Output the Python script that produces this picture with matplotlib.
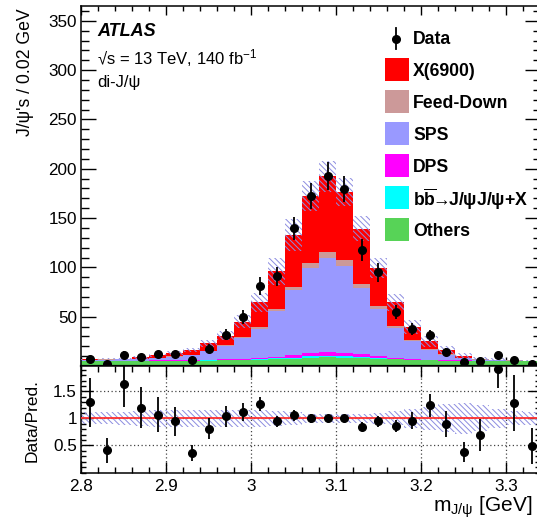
import numpy as np
import matplotlib
matplotlib.use('Agg')
import matplotlib.pyplot as plt
from matplotlib.ticker import MultipleLocator, FixedLocator, FixedFormatter

plt.rcParams['font.family'] = ['Liberation Sans', 'DejaVu Sans']
plt.rcParams['mathtext.fontset'] = 'custom'
plt.rcParams['mathtext.rm'] = 'Liberation Sans'
plt.rcParams['mathtext.it'] = 'Liberation Sans:italic'
plt.rcParams['mathtext.bf'] = 'Liberation Sans:bold'
plt.rcParams['hatch.linewidth'] = 0.7

# binning: 27 bins of 0.02 GeV
edges = np.linspace(2.80, 3.34, 28)
centers = 0.5 * (edges[1:] + edges[:-1])

# stacked components (bottom -> top)
others = [5.0, 5.0, 5.0, 5.0, 5.1, 5.2, 5.3, 5.5, 5.7, 6.0, 6.4, 7.0, 7.6, 8.3, 8.8,
          8.6, 8.0, 7.2, 6.6, 6.0, 5.6, 5.3, 5.1, 5.0, 4.9, 4.8, 4.7]
bbbar = [0.1, 0.1, 0.1, 0.1, 0.1, 0.2, 0.2, 0.2, 0.3, 0.4, 0.5, 0.7, 1.0, 1.4, 1.6,
         1.5, 1.1, 0.8, 0.5, 0.4, 0.3, 0.2, 0.1, 0.1, 0.1, 0.1, 0.1]
dps = [0.3, 0.3, 0.3, 0.4, 0.4, 0.5, 0.5, 0.6, 0.8, 1.0, 1.3, 1.8, 2.5, 3.4, 3.8,
       3.5, 2.6, 1.8, 1.2, 0.9, 0.6, 0.5, 0.4, 0.3, 0.3, 0.3, 0.2]
sps = [0.8, 1.0, 1.2, 1.5, 2.5, 3.5, 5.0, 8.5, 13.9, 21.0, 29.4, 46.0, 65.5, 86.5, 95.0,
       87.7, 67.3, 48.2, 30.3, 17.8, 10.0, 5.5, 2.5, 1.0, 0.5, 0.3, 0.2]
feeddown = [0.2, 0.2, 0.2, 0.2, 0.3, 0.3, 0.4, 0.5, 0.7, 1.0, 2.0, 2.4, 3.7, 5.1, 6.4,
            5.8, 4.3, 3.0, 1.7, 0.9, 0.6, 0.4, 0.3, 0.2, 0.2, 0.1, 0.1]
x6900 = [0.4, 0.9, 0.7, 1.6, 2.5, 3.2, 4.9, 7.8, 9.1, 15.6, 24.9, 38.0, 52.7, 67.8, 76.6,
         69.7, 55.9, 38.6, 24.1, 13.6, 8.0, 4.1, 2.1, 0.9, 0.5, 0.2, 0.1]

# relative uncertainty of the prediction
rel_unc = [0.11, 0.11, 0.12, 0.14, 0.15, 0.15, 0.15, 0.15, 0.15, 0.15, 0.15, 0.14, 0.12, 0.09,
           0.08, 0.08, 0.09, 0.10, 0.13, 0.17, 0.22, 0.26, 0.28, 0.24, 0.18, 0.13, 0.12]

data_y = [7.6, 2.4, 11.6, 9.5, 11.9, 11.9, 5.8, 17.7, 31.5, 49.8, 81.0, 90.8, 139.6, 172.5,
          192.8, 179.2, 117.6, 94.9, 54.9, 37.8, 31.0, 14.0, 3.9, 4.9, 10.9, 5.8, 2.4]
data_err = [2.8, 1.6, 3.4, 3.1, 3.4, 3.4, 2.4, 4.2, 5.6, 7.1, 9.0, 9.5, 11.8, 13.1, 13.9,
            13.4, 10.8, 9.7, 7.4, 6.1, 5.6, 3.8, 2.0, 2.2, 3.3, 2.4, 1.5]

ratio = [1.30, 0.41, 1.63, 1.20, 1.07, 0.95, 0.36, 0.81, 1.04, 1.12, 1.26, 0.95, 1.06, 1.00,
         1.00, 1.00, 0.85, 0.95, 0.86, 0.96, 1.24, 0.90, 0.38, 0.69, 1.91, 1.28, 0.49]
ratio_err = [0.45, 0.23, 0.41, 0.38, 0.32, 0.27, 0.15, 0.19, 0.19, 0.16, 0.13, 0.10, 0.10, 0.08,
             0.06, 0.06, 0.09, 0.10, 0.12, 0.16, 0.22, 0.24, 0.19, 0.30, 0.35, 0.52, 0.33]

components = [others, bbbar, dps, sps, feeddown, x6900]
colors = ['#57d357', '#00ffff', '#ff00ff', '#9999ff', '#cc9999', '#ff0000']
leg_labels = ['X(6900)', 'Feed-Down', 'SPS', 'DPS',
              r'b$\overline{\mathbf{b}}\!\!\rightarrow\!\!$J/ψJ/ψ+X', 'Others']
leg_colors = ['#ff0000', '#cc9999', '#9999ff', '#ff00ff', '#00ffff', '#57d357']
hatch_col = '#8c8ce0'
hatch_pat = '\\' * 6

W, H = 537, 524
fig = plt.figure(figsize=(W / 100, H / 100), dpi=100)
ax = fig.add_axes([81 / W, 1 - 366 / H, 459 / W, 360 / H])
axr = fig.add_axes([81 / W, 1 - 472.5 / H, 459 / W, 106.5 / H])

# stacked histogram
bottom = np.zeros(len(centers))
for vals, col in zip(components, colors):
    top = bottom + np.array(vals)
    ax.stairs(top, edges, baseline=bottom, fill=True, color=col, lw=0, zorder=2)
    bottom = top
total = bottom
unc = np.array(rel_unc)
ax.bar(centers, 2 * unc * total, bottom=total * (1 - unc), width=0.02, fill=False,
       hatch=hatch_pat, edgecolor=hatch_col, linewidth=0, zorder=3)
ax.errorbar(centers, data_y, yerr=data_err, fmt='o', color='k', ms=5.5,
            elinewidth=1.3, capsize=0, zorder=5)

ax.set_xlim(2.80, 3.34)
ax.set_ylim(0, 365)
ax.yaxis.set_major_locator(FixedLocator([50, 100, 150, 200, 250, 300, 350]))
ax.yaxis.set_minor_locator(MultipleLocator(10))
ax.xaxis.set_major_locator(MultipleLocator(0.1))
ax.xaxis.set_minor_locator(MultipleLocator(0.02))
ax.tick_params(axis='x', which='major', length=6.5, labelbottom=False)
ax.tick_params(axis='x', which='minor', length=3.6)
ax.tick_params(axis='y', which='major', length=10.8, labelsize=12.3, pad=3)
ax.tick_params(axis='y', which='minor', length=5.4)
ax.tick_params(which='both', direction='in', top=True, right=True, width=1)

# ratio panel
axr.bar(centers, 2 * unc, bottom=1 - unc, width=0.02, fill=False,
        hatch=hatch_pat, edgecolor=hatch_col, linewidth=0, zorder=2)
axr.axhline(1, color='#ff3030', lw=1.3, zorder=3)
axr.errorbar(centers, ratio, yerr=ratio_err, fmt='o', color='k', ms=5.5,
             elinewidth=1.3, capsize=0, zorder=5)
axr.set_xlim(2.80, 3.34)
axr.set_ylim(0, 1.97)
axr.xaxis.set_major_locator(FixedLocator([2.8, 2.9, 3.0, 3.1, 3.2, 3.3]))
axr.xaxis.set_major_formatter(FixedFormatter(['2.8', '2.9', '3', '3.1', '3.2', '3.3']))
axr.xaxis.set_minor_locator(MultipleLocator(0.02))
axr.yaxis.set_major_locator(FixedLocator([0.5, 1.0, 1.5]))
axr.yaxis.set_major_formatter(FixedFormatter(['0.5', '1', '1.5']))
axr.yaxis.set_minor_locator(MultipleLocator(0.1))
axr.tick_params(axis='x', which='major', length=8, labelsize=12.3, pad=4.5)
axr.tick_params(axis='x', which='minor', length=4)
axr.tick_params(axis='y', which='major', length=8.4, labelsize=12.3, pad=3)
axr.tick_params(axis='y', which='minor', length=3.6)
axr.tick_params(which='both', direction='in', top=True, right=True, width=1)
axr.grid(True, which='major', color='#444444', linestyle=(0, (1, 2)), lw=0.9, zorder=1)

for a in (ax, axr):
    for s in a.spines.values():
        s.set_linewidth(1.1)
ax.spines['bottom'].set_linewidth(1.6)

# labels
fig.text(25 / W, 1 - 8 / H, "J/ψ's / 0.02 GeV", rotation=90, ha='center', va='top',
         fontsize=12.7)
fig.text(32 / W, 1 - 420 / H, 'Data/Pred.', rotation=90, ha='center', va='center',
         fontsize=12.5)
fig.text(433 / W, 1 - 507 / H, r'm$_{\mathregular{J/ψ}}$ [GeV]', ha='left', va='center',
         fontsize=15)

fig.text(97 / W, 1 - 31 / H, 'ATLAS', fontsize=13, fontweight='bold', fontstyle='italic',
         ha='left', va='center')
fig.text(97 / W, 1 - 58 / H, '√s = 13 TeV, 140 fb$^{-1}$', fontsize=12,
         ha='left', va='center')
fig.text(97 / W, 1 - 83 / H, 'di-J/ψ', fontsize=12, ha='left', va='center')

# legend
fig.lines.append(plt.Line2D([396 / W, 396 / W], [1 - 28 / H, 1 - 49 / H],
                            color='k', lw=1.3, transform=fig.transFigure))
fig.lines.append(plt.Line2D([396 / W], [1 - 38.5 / H], marker='o', ms=5.5, color='k',
                            transform=fig.transFigure))
fig.text(413 / W, 1 - 39 / H, 'Data', fontsize=12.7, fontweight='bold', ha='left', va='center')
for i, (lab, col) in enumerate(zip(leg_labels, leg_colors)):
    yc = 69.5 + 32 * i
    fig.patches.append(plt.Rectangle((384.5 / W, 1 - (yc + 11.5) / H), 24 / W, 23 / H,
                                     facecolor=col, edgecolor='none',
                                     transform=fig.transFigure))
    fig.text(413 / W, 1 - (yc + 1.5) / H, lab, fontsize=12.7, fontweight='bold',
             ha='left', va='center')

fig.savefig('out.png', dpi=100)
